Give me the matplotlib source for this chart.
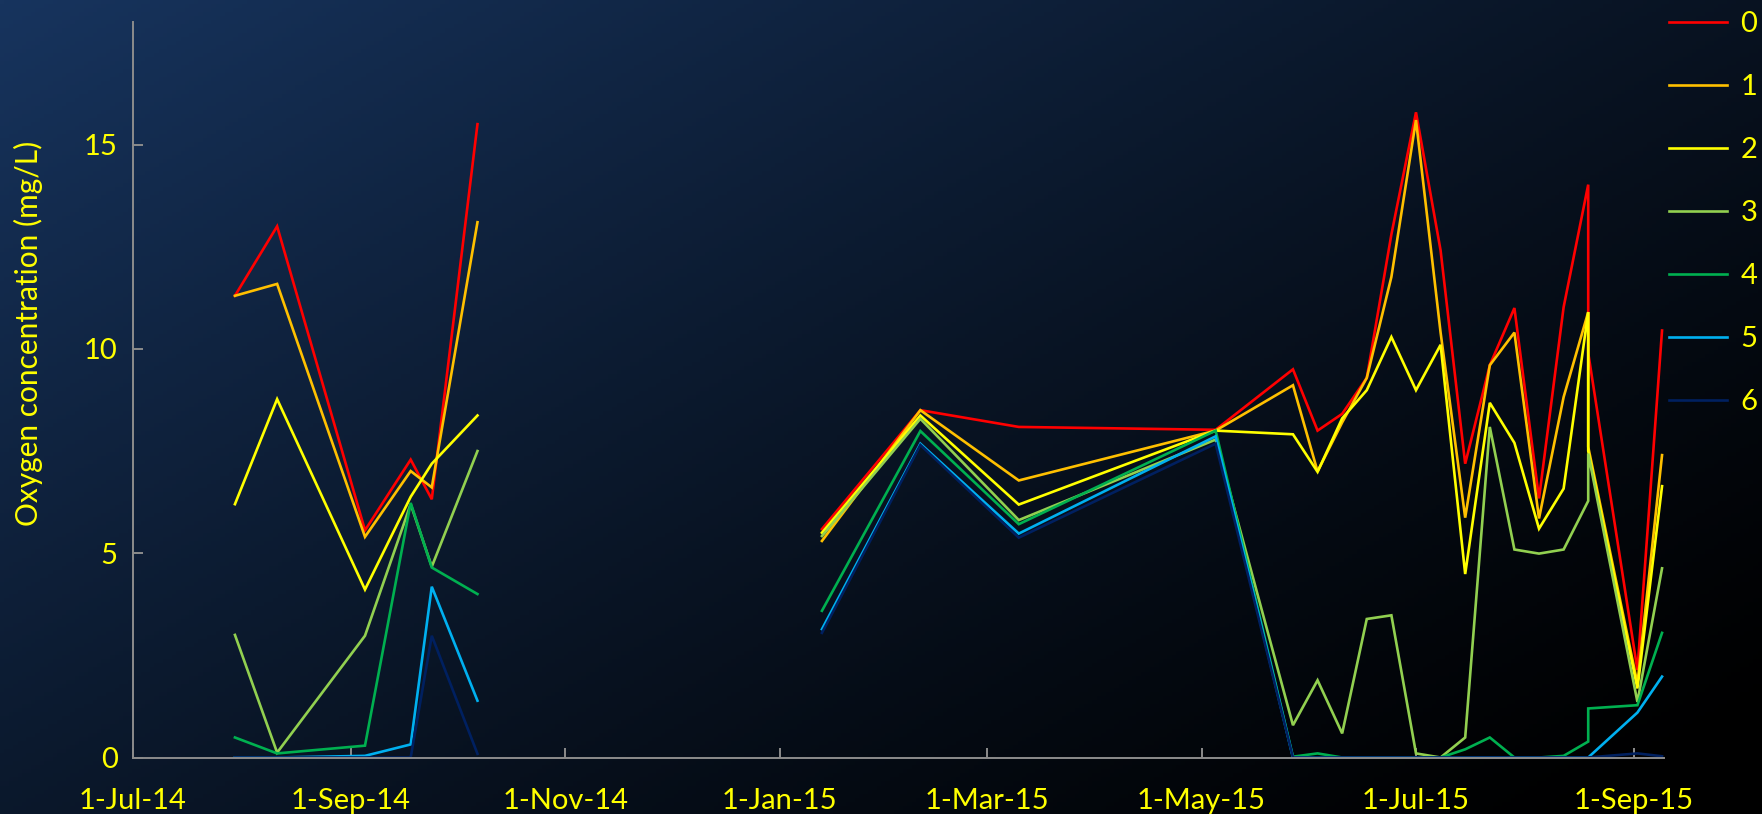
import numpy as np
import pandas as pd
import matplotlib
matplotlib.use("Agg")
import matplotlib.pyplot as plt
import matplotlib.dates as mdates
from matplotlib.ticker import FuncFormatter

# Sampling dates (Aug 19 2015 was sampled twice)
dates = ["2014-07-30", "2014-08-11", "2014-09-05", "2014-09-18", "2014-09-24", "2014-10-07",
         "2015-01-13", "2015-02-10", "2015-03-10", "2015-05-05",
         "2015-05-27", "2015-06-03", "2015-06-10", "2015-06-17", "2015-06-24", "2015-07-01",
         "2015-07-08", "2015-07-15", "2015-07-22", "2015-07-29", "2015-08-05", "2015-08-12",
         "2015-08-19", "2015-08-19", "2015-09-02", "2015-09-09"]

s0 = [11.3, 13.0, 5.56, 7.29, 6.32, 15.5,
      5.59, 8.5, 8.09, 8.02,
      9.5, 8.0, 8.41, 9.29, 12.8, 15.79, 12.41, 7.19, 9.6, 11.0, 6.34, 11.02, 14.02, 9.9, 2.14, 10.45]
s1 = [11.3, 11.59, 5.4, 7.01, 6.61, 13.1,
      5.3, 8.5, 6.78, 8.0,
      9.11, 7.0, 8.2, 9.29, 11.76, 15.6, 10.4, 5.87, 9.6, 10.4, 5.85, 8.82, 10.9, 7.6, 1.81, 7.4]
s2 = [6.2, 8.77, 4.11, 6.38, 7.19, 8.37,
      5.5, 8.37, 6.19, 8.0,
      7.91, 6.99, 8.3, 8.99, 10.29, 8.99, 10.1, 4.49, 8.68, 7.7, 5.6, 6.58, 10.9, 7.5, 1.69, 6.64]
s3 = [3.0, 0.12, 2.98, 6.2, 4.67, 7.5,
      5.42, 8.29, 5.81, 7.78,
      0.79, 1.89, 0.59, 3.39, 3.48, 0.1, 0.0, 0.49, 8.09, 5.09, 4.99, 5.09, 6.28, 7.44, 1.36, 4.63]
s4 = [0.49, 0.1, 0.29, 6.23, 4.65, 4.0,
      3.59, 7.99, 5.71, 8.0,
      0.02, 0.1, 0.0, 0.0, 0.0, 0.0, 0.0, 0.2, 0.49, 0.0, 0.0, 0.04, 0.39, 1.2, 1.28, 3.05]
s5 = [0.0, 0.0, 0.04, 0.32, 4.18, 1.39,
      3.14, 7.68, 5.48, 7.86,
      0.0, 0.0, 0.0, 0.0, 0.0, 0.0, 0.0, 0.0, 0.0, 0.0, 0.0, 0.0, 0.0, 0.0, 1.1, 1.98]
s6 = [0.0, 0.0, 0.0, 0.0, 2.98, 0.09,
      3.05, 7.65, 5.38, 7.68,
      0.0, 0.0, 0.0, 0.0, 0.0, 0.0, 0.0, 0.0, 0.0, 0.0, 0.0, 0.0, 0.0, 0.0, 0.1, 0.03]

labels = ["0", "1", "2", "3", "4", "5", "6"]
colors = ["#FF0000", "#FFC000", "#FFFF00", "#92D050", "#00B050", "#00B0F0", "#002060"]
yticks = [0, 5, 10, 15]
txt = "#FFFF00"

plt.rcParams['font.family'] = ['Lato', 'DejaVu Sans']

W, H = 1762, 814
fig = plt.figure(figsize=(W / 100, H / 100), dpi=100)

# diagonal gradient: dark blue top-left -> black bottom-right
bg = fig.add_axes([0, 0, 1, 1], zorder=-10)
gx, gy = np.meshgrid(np.linspace(0, 1, 400), np.linspace(0, 1, 200))
t = np.clip((gx * 0.55 + gy * 0.45) / 0.95, 0, 1)
c0 = np.array([0x17, 0x34, 0x5e]) / 255
img = c0[None, None, :] * (1 - t[..., None]) ** 1.2
bg.imshow(img, aspect='auto', extent=[0, 1, 0, 1], origin='upper')
bg.axis('off')

ax = fig.add_axes([133 / W, 1 - 757.5 / H, (1663.5 - 133) / W, (757.5 - 22) / H])
ax.patch.set_alpha(0)

x = pd.to_datetime(dates)
# break the lines where sampling stopped for the winter
gap = np.r_[False, np.diff(x.values).astype('timedelta64[D]').astype(int) > 70]
for lab, col, vals in zip(labels, colors, [s0, s1, s2, s3, s4, s5, s6]):
    xs, ys = [], []
    for xi, vi, g in zip(x, vals, gap):
        if g:
            xs.append(xi - pd.Timedelta(days=1))
            ys.append(np.nan)
        xs.append(xi)
        ys.append(vi)
    ax.plot(xs, ys, color=col, lw=1.9, label=lab, solid_joinstyle='miter')

ax.set_ylim(0, 18)
ax.set_xlim(pd.Timestamp("2014-07-01"), pd.Timestamp("2015-09-09 10:00"))
ax.set_yticks(yticks)
ax.xaxis.set_major_locator(mdates.MonthLocator(bymonth=[1, 3, 5, 7, 9, 11]))
ax.xaxis.set_major_formatter(FuncFormatter(
    lambda v, p: "{}-{}".format(mdates.num2date(v).day, mdates.num2date(v).strftime("%b-%y"))))

for s in ['top', 'right']:
    ax.spines[s].set_visible(False)
for s in ['left', 'bottom']:
    ax.spines[s].set_color('#8c8c8c')
    ax.spines[s].set_linewidth(1.4)
ax.tick_params(axis='both', direction='in', length=7, width=1.4, color='#8c8c8c',
               labelcolor=txt, labelsize=21)
ax.tick_params(axis='x', pad=22)
ax.tick_params(axis='y', pad=11)
ax.set_ylabel("Oxygen concentration (mg/L)", color=txt, fontsize=21.5)
ax.yaxis.set_label_coords(-90 / (1663.5 - 133), 0.576)

fig.legend(loc='upper left', bbox_to_anchor=(1669 / W, 1 - 11 / H), frameon=False,
           fontsize=21, labelcolor=txt, handlelength=2.0, handletextpad=0.45,
           labelspacing=1.27, borderpad=0, borderaxespad=0)

fig.savefig("out.png", dpi=100)
